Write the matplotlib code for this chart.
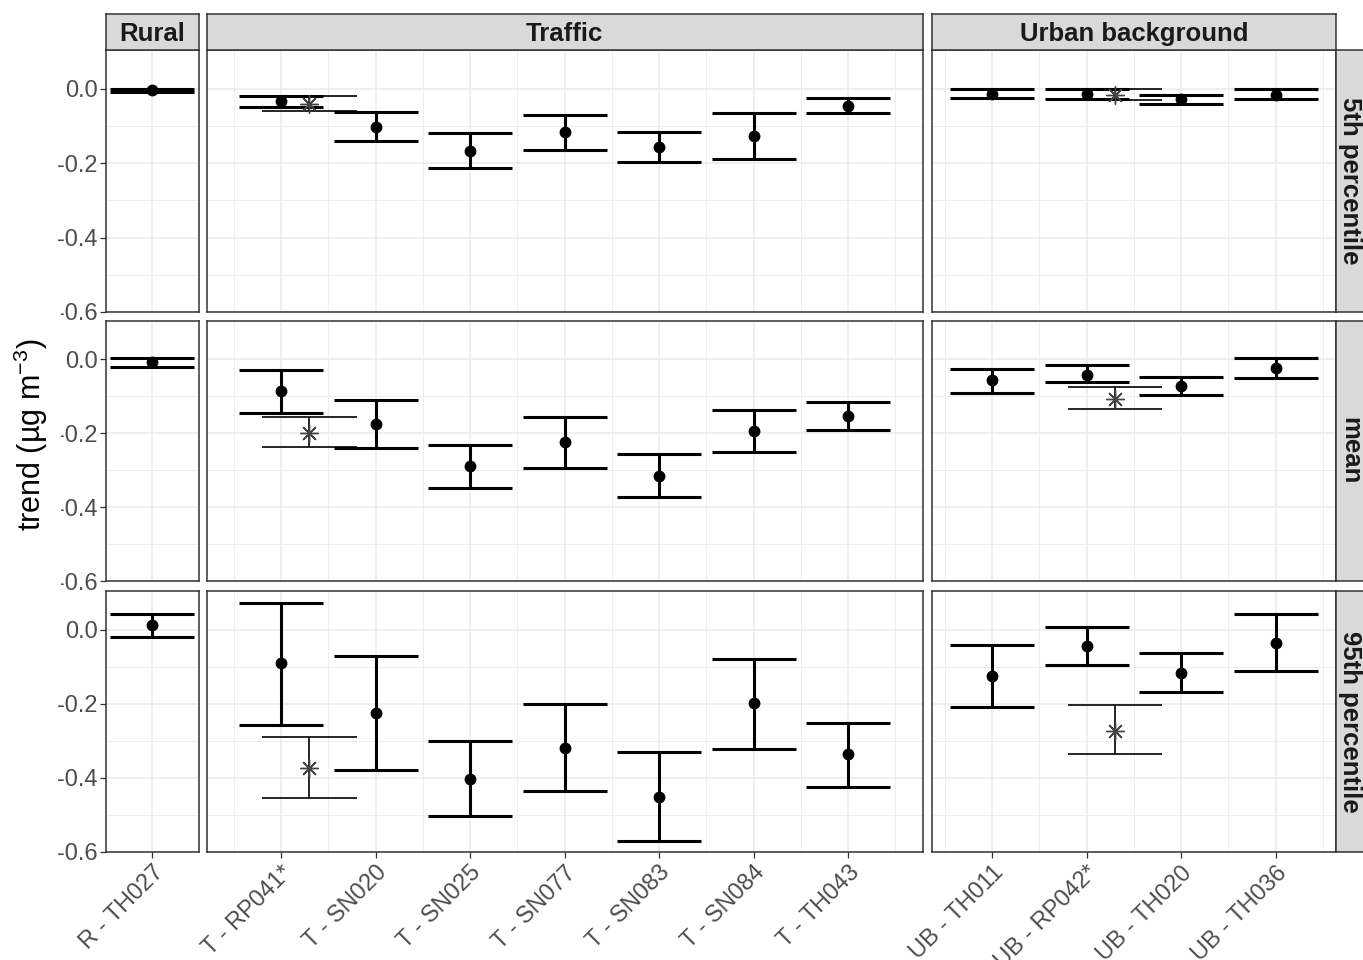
import matplotlib
matplotlib.use("Agg")
import matplotlib.pyplot as plt
from matplotlib.patches import Rectangle

plt.rcParams['font.family'] = ['Liberation Sans', 'DejaVu Sans']
plt.rcParams['mathtext.fontset'] = 'custom'
plt.rcParams['mathtext.rm'] = 'Liberation Sans'
plt.rcParams['mathtext.it'] = 'Liberation Sans:italic'
plt.rcParams['mathtext.bf'] = 'Liberation Sans:bold'

# ---------------- data ----------------
sites = ["R - TH027",
         "T - RP041*", "T - SN020", "T - SN025", "T - SN077", "T - SN083", "T - SN084", "T - TH043",
         "UB - TH011", "UB - RP042*", "UB - TH020", "UB - TH036"]
site_type = ["Rural"] + ["Traffic"] * 7 + ["Urban background"] * 4
panel_names = ["Rural", "Traffic", "Urban background"]
row_names = ["5th percentile", "mean", "95th percentile"]

p05_trend = [-0.004, -0.033, -0.102, -0.167, -0.117, -0.156, -0.126, -0.046, -0.013, -0.015, -0.029, -0.016]
p05_lower = [-0.008, -0.050, -0.141, -0.214, -0.164, -0.198, -0.189, -0.066, -0.024, -0.027, -0.042, -0.029]
p05_upper = [0.000, -0.020, -0.063, -0.120, -0.071, -0.117, -0.065, -0.025, -0.002, -0.002, -0.016, -0.002]

mean_trend = [-0.007, -0.086, -0.174, -0.289, -0.223, -0.315, -0.194, -0.152, -0.057, -0.041, -0.072, -0.023]
mean_lower = [-0.020, -0.144, -0.240, -0.349, -0.293, -0.373, -0.251, -0.191, -0.091, -0.062, -0.097, -0.051]
mean_upper = [0.004, -0.029, -0.109, -0.232, -0.155, -0.256, -0.138, -0.114, -0.025, -0.015, -0.047, 0.004]

p95_trend = [0.011, -0.091, -0.224, -0.402, -0.320, -0.451, -0.199, -0.337, -0.125, -0.045, -0.116, -0.036]
p95_lower = [-0.021, -0.258, -0.378, -0.504, -0.436, -0.571, -0.322, -0.424, -0.208, -0.095, -0.168, -0.112]
p95_upper = [0.041, 0.071, -0.070, -0.300, -0.202, -0.329, -0.079, -0.251, -0.042, 0.007, -0.063, 0.041]

# alternative estimate for the starred sites (drawn with an asterisk)
star_sites = ["T - RP041*", "UB - RP042*"]
star_p05_trend = [-0.040, -0.016]
star_p05_lower = [-0.060, -0.031]
star_p05_upper = [-0.020, -0.002]
star_mean_trend = [-0.200, -0.106]
star_mean_lower = [-0.236, -0.135]
star_mean_upper = [-0.156, -0.074]
star_p95_trend = [-0.374, -0.273]
star_p95_lower = [-0.453, -0.335]
star_p95_upper = [-0.289, -0.204]

rows = [(p05_trend, p05_lower, p05_upper, star_p05_trend, star_p05_lower, star_p05_upper),
        (mean_trend, mean_lower, mean_upper, star_mean_trend, star_mean_lower, star_mean_upper),
        (p95_trend, p95_lower, p95_upper, star_p95_trend, star_p95_lower, star_p95_upper)]

# ---------------- layout ----------------
W, H = 1363, 960
fig = plt.figure(figsize=(W / 100, H / 100), dpi=100)
fig.patch.set_facecolor("white")


def px_axes(x0, y0, x1, y1, **kw):
    return fig.add_axes([x0 / W, 1 - y1 / H, (x1 - x0) / W, (y1 - y0) / H], **kw)


CAP = 0.445        # half width of the error bar caps
STAR_CAP = 0.50
STAR_DX = 0.30     # dodge of the starred estimate
YLIM = (-0.6, 0.104)

BORDER = "#333333"
GRID = "#EBEBEB"
TICKLAB = "#4D4D4D"
STRIP = "#D9D9D9"

# x limits per facet column (data range + 5 %)
groups = []
for name in panel_names:
    idx = [i for i, t in enumerate(site_type) if t == name]
    n = len(idx)
    lo, hi = -CAP, n - 1 + CAP
    for j, s in enumerate(sites[i] for i in idx):
        if s in star_sites:
            lo = min(lo, j + STAR_DX - STAR_CAP)
            hi = max(hi, j + STAR_DX + STAR_CAP)
    span = hi - lo
    groups.append((idx, (lo - 0.05 * span, hi + 0.05 * span)))

left_px, right_px = 106, 1336
gaps = [8, 9]
spans = [g[1][1] - g[1][0] for g in groups]
ppu = (right_px - left_px - sum(gaps)) / sum(spans)
col_px = []
x = left_px
for k, s in enumerate(spans):
    col_px.append((x, x + s * ppu))
    x = x + s * ppu + (gaps[k] if k < len(gaps) else 0)

row_px = [(50, 312), (321, 581), (591, 852)]
top_strip = (14, 50)
right_strip = (1336, 1364)

for r, (trend, lower, upper, s_tr, s_lo, s_up) in enumerate(rows):
    for c, (idx, xl) in enumerate(groups):
        ax = px_axes(col_px[c][0], row_px[r][0], col_px[c][1], row_px[r][1])
        n = len(idx)
        ax.set_xlim(*xl)
        ax.set_ylim(*YLIM)
        ax.set_xticks(range(n))
        ax.set_xticks([k + 0.5 for k in range(-1, n) if xl[0] < k + 0.5 < xl[1]], minor=True)
        ax.set_yticks([-0.6, -0.4, -0.2, 0.0])
        ax.set_yticks([-0.5, -0.3, -0.1], minor=True)
        ax.grid(True, which="major", color=GRID, lw=1.1, zorder=0)
        ax.grid(True, which="minor", color=GRID, lw=0.6, zorder=0)
        ax.set_axisbelow(True)
        for sp in ax.spines.values():
            sp.set_color(BORDER)
            sp.set_linewidth(1.1)

        xs = list(range(n))
        tr = [trend[i] for i in idx]
        lo = [lower[i] for i in idx]
        up = [upper[i] for i in idx]
        ax.vlines(xs, lo, up, color="black", lw=2.2, capstyle="butt", zorder=3)
        ax.hlines(lo, [v - CAP for v in xs], [v + CAP for v in xs], color="black", lw=2.2,
                  capstyle="butt", zorder=3)
        ax.hlines(up, [v - CAP for v in xs], [v + CAP for v in xs], color="black", lw=2.2,
                  capstyle="butt", zorder=3)
        ax.plot(xs, tr, "o", color="black", ms=7.5, zorder=4)

        # starred estimates, dodged to the right
        for j, i in enumerate(idx):
            if sites[i] in star_sites:
                k = star_sites.index(sites[i])
                sx = j + STAR_DX
                ax.vlines(sx, s_lo[k], s_up[k], color="black", lw=1.2, zorder=3)
                ax.hlines([s_lo[k], s_up[k]], sx - STAR_CAP, sx + STAR_CAP, color="black",
                          lw=1.2, capstyle="butt", zorder=3)
                ax.plot([sx], [s_tr[k]], marker=(8, 2, 0), ms=13, mew=1.0,
                        color="#444444", zorder=4)

        ax.tick_params(which="minor", length=0)
        ax.tick_params(which="major", color=BORDER, width=0.9, length=4,
                       labelcolor=TICKLAB, labelsize=17)
        if r == 2:
            ax.set_xticklabels([sites[i] for i in idx], rotation=45, ha="right", va="top",
                               rotation_mode="anchor")
            ax.tick_params(axis="x", pad=3)
        else:
            ax.tick_params(axis="x", which="both", length=0, labelbottom=False)
        if c == 0:
            ax.set_yticklabels(["-0.6", "-0.4", "-0.2", "0.0"])
            ax.tick_params(axis="y", pad=2)
        else:
            ax.tick_params(axis="y", which="both", length=0, labelleft=False)

# facet strips
for c, name in enumerate(panel_names):
    sax = px_axes(col_px[c][0], top_strip[0], col_px[c][1], top_strip[1])
    sax.set_facecolor(STRIP)
    sax.set_xticks([])
    sax.set_yticks([])
    for sp in sax.spines.values():
        sp.set_color(BORDER)
        sp.set_linewidth(1.1)
    sax.text(0.5, 0.44, name, transform=sax.transAxes, ha="center", va="center",
             fontsize=18.5, fontweight="bold", color="#1A1A1A")

for r, name in enumerate(row_names):
    sax = px_axes(right_strip[0], row_px[r][0], right_strip[1], row_px[r][1])
    sax.set_facecolor(STRIP)
    sax.set_xticks([])
    sax.set_yticks([])
    for sp in sax.spines.values():
        sp.set_color(BORDER)
        sp.set_linewidth(1.1)
    sax.text(0.5, 0.5, name, transform=sax.transAxes, ha="center", va="center",
             rotation=270, fontsize=18.5, fontweight="bold", color="#1A1A1A")

# y-axis title on a white backing box
fig.patches.append(Rectangle((0, 1 - 588 / H), 61 / W, (588 - 313) / H,
                             transform=fig.transFigure, facecolor="white",
                             edgecolor="none", zorder=5))
fig.text(31 / W, 1 - 435 / H, "trend (µg m$^{-3}$)", rotation=90, ha="center",
         va="center", fontsize=22, color="black", zorder=6)

fig.savefig("out.png", dpi=100, facecolor="white")
